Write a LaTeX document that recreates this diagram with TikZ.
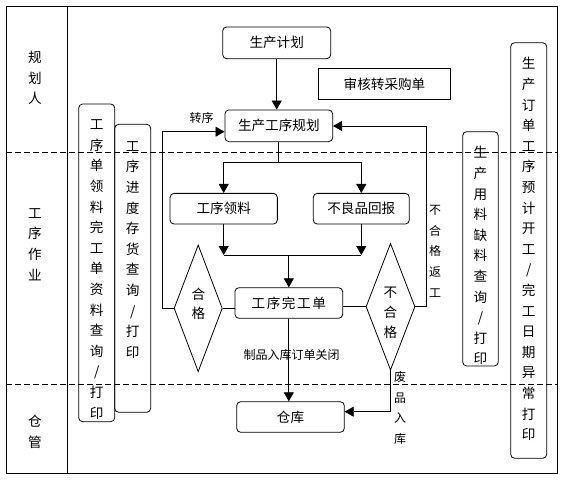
\documentclass[tikz,border=0pt]{standalone}
\usepackage{fontspec}
\setmainfont{Noto Sans CJK SC}
\usetikzlibrary{arrows.meta,shapes.geometric}
\begin{document}
\begin{tikzpicture}[x=1pt,y=-1pt,
  line width=0.8pt,
  every node/.style={font=\fontsize{13.6}{20.6}\selectfont},
  proc/.style={draw, rounded corners=4pt, inner sep=0pt},
  plainbox/.style={draw, inner sep=0pt},
  dia/.style={draw, diamond, inner sep=0pt},
  vtext/.style={align=center, inner sep=0pt, anchor=north},
  smalltext/.style={font=\fontsize{12}{20.6}\selectfont},
  arr/.style={-{Triangle[length=9pt,width=10pt]}},
  lanesep/.style={dash pattern=on 6pt off 3pt}
]
\useasboundingbox (0,0) rectangle (565,480);
% frame and lanes
\draw (6,6) rectangle (557,473);
\draw (67,6) -- (67,473);
\draw[lanesep] (6,152) -- (557,152);
\draw[lanesep] (6,384) -- (557,384);
% lane labels
\node[vtext] (l1) at (35,51) {规\\划\\人};
\node[vtext] (l2) at (35,208) {工\\序\\作\\业};
\node[vtext] (l3) at (35,415) {仓\\管};
% vertical boxes
\node[proc, minimum width=36pt, minimum height=317.7pt] (boxA) at (96.7,262.85) {};
\node[proc, minimum width=36pt, minimum height=288pt] (boxB) at (132.7,268.3) {};
\node[proc, minimum width=35.6pt, minimum height=234.3pt] (boxC) at (480.5,248.85) {};
\node[proc, minimum width=36pt, minimum height=415.6pt] (boxD) at (528.7,250.5) {};
\node[vtext] (tA) at (96.7,119.5) {工\\序\\单\\领\\料\\完\\工\\单\\资\\料\\查\\询\\/\\打\\印};
\node[vtext] (tB) at (132.7,141) {工\\序\\进\\度\\存\\货\\查\\询\\/\\打\\印};
\node[vtext] (tC) at (480.5,146) {生\\产\\用\\料\\缺\\料\\查\\询\\/\\打\\印};
\node[vtext] (tD) at (528.7,57) {生\\产\\订\\单\\工\\序\\预\\计\\开\\工\\/\\完\\工\\日\\期\\异\\常\\打\\印};
% process boxes
\node[proc, minimum width=108pt, minimum height=31.7pt] (plan) at (276.7,42.8) {生产计划};
\node[proc, minimum width=107.7pt, minimum height=31.7pt] (sched) at (278.8,125.8) {生产工序规划};
\node[plainbox, minimum width=132.4pt, minimum height=31pt] (audit) at (384.5,83.8) {审核转采购单};
\node[proc, minimum width=107.3pt, minimum height=30.7pt] (pick) at (223.7,208.7) {工序领料};
\node[proc, minimum width=96pt, minimum height=30.7pt] (defect) at (361.3,208.7) {不良品回报};
\node[proc, minimum width=107.7pt, minimum height=30.6pt] (done) at (288.8,303) {\addfontfeature{LetterSpace=12}工序完工单};
\node[proc, minimum width=107.6pt, minimum height=30.6pt] (store) at (290.5,417) {仓库};
% decisions
\node[dia, minimum width=48.3pt, minimum height=126.7pt] (ok) at (198.2,308.3) {};
\node[dia, minimum width=49pt, minimum height=126.7pt] (nok) at (390.5,306.7) {};
\node[vtext, font=\fontsize{13.6}{19}\selectfont] (oktext) at (198.3,288) {合\\格};
\node[vtext, font=\fontsize{13.6}{20}\selectfont] (noktext) at (390.5,286.5) {不\\合\\格};
% labels
\node[smalltext] (zhuanxu) at (201.7,117.5) {转序};
\node[smalltext] (close) at (291.7,355) {制品入库订单关闭};
\node[vtext, smalltext] (rework) at (435,205) {不\\合\\格\\返\\工};
\node[vtext, smalltext] (scraptext) at (400,371) {废\\品\\入\\库};
% connectors
\draw[arr] (plan.south) -- (plan.south |- sched.north);
\coordinate (split) at (sched.south |- 0,162);
\draw (sched.south) -- (split);
\draw[arr] (split) -| (pick.north);
\draw[arr] (split) -| (defect.north);
\coordinate (merge) at (done.north |- 0,255);
\draw[arr] (pick.south) -- (pick.south |- merge);
\draw[arr] (defect.south) -- (defect.south |- merge);
\draw (pick.south |- merge) -- (defect.south |- merge);
\draw[arr] (merge) -- (done.north);
\draw (ok.east) -- (ok.east -| done.west);
\draw (nok.west) -- (nok.west -| done.east);
\coordinate (loopL) at (162.3,131.7);
\draw[arr] (ok.west) -| (loopL) -- (loopL -| sched.west);
\coordinate (loopR) at (426.7,126);
\draw[arr] (nok.east) -| (loopR) -- (loopR -| sched.east);
\draw[arr] (done.south) -- (done.south |- store.north);
\coordinate (scrap) at (nok.south |- 0,411.7);
\draw[arr] (nok.south) -- (scrap) -- (scrap -| store.east);
\end{tikzpicture}
\end{document}
